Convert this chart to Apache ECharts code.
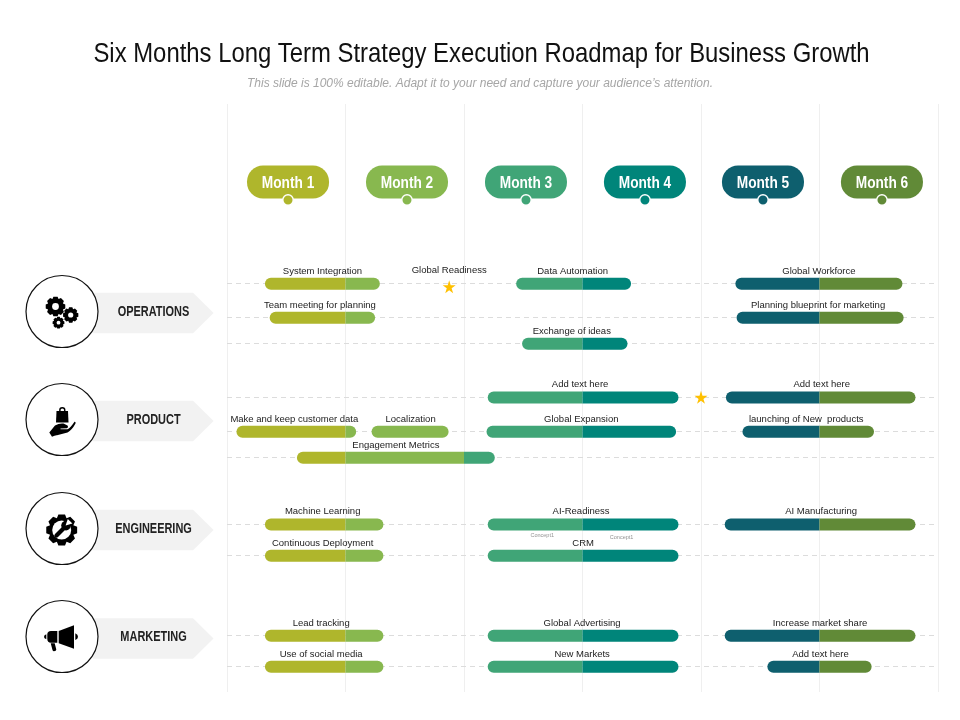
<!DOCTYPE html>
<html>
<head>
<meta charset="utf-8">
<title>Roadmap</title>
<script src="https://cdn.jsdelivr.net/npm/echarts@6/dist/echarts.min.js"></script>
<style>
  html, body { margin: 0; background: #fff; }
  #chart { width: 960px; height: 720px; }
</style>
</head>
<body>
<div id="chart"></div>
<script>
// 数据：x 轴单位是月（0~6），y 轴是纵向位置
const months = ['Month 1', 'Month 2', 'Month 3', 'Month 4', 'Month 5', 'Month 6'];
const monthAt = [0.515, 1.519, 2.523, 3.527, 4.523, 5.527];
const monthColors = ['#AFB62C', '#88B84F', '#40A577', '#00857A', '#0E5F6E', '#618A37'];
const categories = ['OPERATIONS', 'PRODUCT', 'ENGINEERING', 'MARKETING'];

const lanes = [17.93, 21.33, 23.93, 29.3, 32.73, 35.33, 42.0, 45.13, 53.13, 56.23];

const taskNames = [
  'System Integration', 'Data Automation', 'Global Workforce',
  'Team meeting for planning', 'Planning blueprint for marketing',
  'Exchange of ideas',
  'Add text here', 'Add text here',
  'Make and keep customer data', 'Localization', 'Global Expansion', 'launching of New  products',
  'Engagement Metrics',
  'Machine Learning', 'AI-Readiness', 'AI Manufacturing',
  'Continuous Deployment', 'CRM',
  'Lead tracking', 'Global Advertising', 'Increase market share',
  'Use of social media', 'New Markets', 'Add text here'
];
const taskStart = [
  0.32, 2.44, 4.29,
  0.36, 4.30,
  2.49,
  2.20, 4.21,
  0.08, 1.22, 2.19, 4.35,
  0.59,
  0.32, 2.20, 4.20,
  0.32, 2.20,
  0.32, 2.20, 4.20,
  0.32, 2.20, 4.56
];
const taskEnd = [
  1.29, 3.41, 5.70,
  1.25, 5.71,
  3.38,
  3.81, 5.81,
  1.09, 1.87, 3.79, 5.46,
  2.26,
  1.32, 3.81, 5.81,
  1.32, 3.81,
  1.32, 3.81, 5.81,
  1.32, 3.81, 5.44
];
const taskLane = [0, 0, 0, 1, 1, 2, 3, 3, 4, 4, 4, 4, 5, 6, 6, 6, 7, 7, 8, 8, 8, 9, 9, 9];

// 里程碑星标
const starNames = ['Global Readiness', ''];
const starMonth = [1.875, 4.0];
const starPos = [18.27, 29.33];

// 小字注释
const noteMonth = [2.66, 3.33];
const notePos = [43.1, 43.3];
const noteText = 'Concept1';

// 布局：左侧面板的纵向位置、文字的微调
const panelCircleY = [311.5, 419.5, 528.5, 636.5];
const panelArrowY = [313, 421, 530, 638.5];
const labelShift = [0, -1, 0, -2.5, -2, -3, -3, 1, -2, 0.5, 0, -2, 0, -1.5, -2, 1, -1.5, 0, -3, -1, 0, -3, -1, 1];

const SANS = '"Liberation Sans", Arial, sans-serif';
const LABEL_FONT = '9.5px ' + SANS;
const STAR = 'path://M50 0 L61 35 L98 35 L68 57 L79 91 L50 70 L21 91 L32 57 L2 35 L39 35 Z';

// 齿轮外形，返回多边形顶点
const gearPoints = (cx, cy, r, root, teeth) => {
  const pts = [];
  const step = Math.PI * 2 / teeth;
  for (let i = 0; i < teeth; i++) {
    const a = i * step - Math.PI / 2;
    [[-0.5, root], [-0.27, r], [0.27, r], [0.5, root]].forEach(p => {
      const t = a + p[0] * step;
      pts.push([cx + p[1] * Math.cos(t), cy + p[1] * Math.sin(t)]);
    });
  }
  return pts;
};

const gear = (cx, cy, r, hole) => [
  { type: 'polygon', shape: { points: gearPoints(cx, cy, r, r * 0.8, 8) }, style: { fill: '#000' } },
  { type: 'circle', shape: { cx, cy, r: hole }, style: { fill: '#fff' } }
];

const blackPath = d => ({ type: 'path', shape: { pathData: d }, style: { fill: '#000' } });

const icons = [
  () => [...gear(55.5, 306.5, 10, 3.4), ...gear(70.7, 315, 7.8, 2.6), ...gear(58.5, 322.7, 6, 1.9)],
  () => [
    blackPath('M56.5 411 L68 411 L68.5 422.5 L56 422.5 Z'),
    { type: 'ring', shape: { cx: 62.3, cy: 410.3, r: 3.2, r0: 1.8 }, style: { fill: '#000' } },
    blackPath('M49.3 432.5 L55 425.5 Q59 423 63.5 423.5 L67.5 425.5 Q69 427 67 428.3 L60.5 428.5 L60.5 429.3 L67.5 429.3 Q70 428.5 74.5 421.8 Q76 421.5 75.5 423.5 Q72 430 67.5 432.5 L57 435.2 Q55 435 52 436.8 Z')
  ],
  () => [
    { type: 'polygon', shape: { points: gearPoints(61.7, 530, 15.8, 12.6, 8) }, style: { fill: '#000' } },
    { type: 'circle', shape: { cx: 61.7, cy: 530, r: 9.5 }, style: { fill: '#fff' } },
    { type: 'line', shape: { x1: 56.5, y1: 535.5, x2: 65.5, y2: 526.5 }, style: { stroke: '#000', lineWidth: 4.2, lineCap: 'round' } },
    { type: 'circle', shape: { cx: 66, cy: 525.6, r: 4.8 }, style: { fill: '#000' } },
    blackPath('M66 521.5 L69.8 519.6 L71.8 522 L69.6 526 L66.8 525.6 Z'),
    { type: 'polygon', shape: { points: [[65.6, 525.4], [67.8, 519], [72.4, 523.4]] }, style: { fill: '#fff' } }
  ],
  () => [
    blackPath('M58.7 631 L74 625.3 L74 648.7 L58.7 643.3 Z'),
    blackPath('M57.3 631 L57.3 642.7 L51 642.7 Q47.3 642.7 47.3 639 L47.3 634.7 Q47.3 631 51 631 Z'),
    blackPath('M46.3 634.3 L46.3 639.3 Q44 638.6 44 636.8 Q44 635 46.3 634.3 Z'),
    blackPath('M75.3 633.3 Q78 634.5 78 636.7 Q78 638.9 75.3 640 Z'),
    blackPath('M50.7 643.3 L54.7 643.3 L56.3 649.5 Q56.3 651 54 651.2 Q52.8 651.2 52.5 650 Z')
  ]
];

// 左侧：圆形图标 + 箭头标签
const renderPanel = (params) => {
  const i = params.dataIndex;
  const ay = panelArrowY[i];
  const cy = panelCircleY[i];
  return {
    type: 'group',
    children: [
      {
        type: 'polygon',
        shape: { points: [[93, ay - 20.3], [193, ay - 20.3], [213.5, ay], [193, ay + 20.3], [93, ay + 20.3]] },
        style: { fill: '#F2F2F2' }
      },
      {
        type: 'circle',
        shape: { cx: 62, cy, r: 36 },
        style: { fill: '#fff', stroke: '#111', lineWidth: 1.2 }
      },
      {
        type: 'text',
        x: 153.5,
        y: cy + 0.5,
        scaleX: 0.73,
        style: {
          text: categories[i], x: 0, y: 0, align: 'center', verticalAlign: 'middle',
          font: 'bold 15px ' + SANS, fill: '#222'
        }
      },
      ...icons[i]()
    ]
  };
};

// 月份胶囊
const renderMonth = (params, api) => {
  const i = params.dataIndex;
  const p = api.coord([api.value(0), api.value(1)]);
  return {
    type: 'group',
    children: [
      {
        type: 'rect',
        shape: { x: p[0] - 41, y: p[1] - 16.5, width: 82, height: 33, r: 16 },
        style: { fill: monthColors[i] }
      },
      {
        type: 'circle',
        shape: { cx: p[0], cy: p[1] + 18, r: 5.2 },
        style: { fill: monthColors[i], stroke: '#fff', lineWidth: 1.4 }
      },
      {
        type: 'text',
        x: p[0],
        y: p[1] + 1.5,
        scaleX: 0.855,
        style: {
          text: months[i], x: 0, y: 0, align: 'center', verticalAlign: 'middle',
          font: 'bold 16px ' + SANS, fill: '#fff',
          shadowColor: 'rgba(0,0,0,0.6)', shadowBlur: 2, shadowOffsetX: 1, shadowOffsetY: 1
        }
      }
    ]
  };
};

// 任务条，跨月处按月份分段上色
const renderTask = (params, api) => {
  const i = params.dataIndex;
  const start = api.value(0);
  const end = api.value(1);
  const lane = api.value(2);
  const y = api.coord([start, lane])[1];
  const h = 12;
  const rad = 6;
  const children = [];
  for (let m = Math.floor(start); m < end; m++) {
    const from = Math.max(start, m);
    const to = Math.min(end, m + 1);
    const x0 = api.coord([from, lane])[0];
    const x1 = api.coord([to, lane])[0];
    const isFirst = from === start;
    const isLast = to === end;
    children.push({
      type: 'rect',
      shape: {
        x: x0, y: y - h / 2 + 0.4, width: x1 - x0, height: h,
        r: [isFirst ? rad : 0, isLast ? rad : 0, isLast ? rad : 0, isFirst ? rad : 0]
      },
      style: { fill: monthColors[m] }
    });
  }
  const mid = (api.coord([start, lane])[0] + api.coord([end, lane])[0]) / 2;
  children.push({
    type: 'text',
    style: {
      text: taskNames[i], x: mid + labelShift[i], y: y - 12.2,
      align: 'center', verticalAlign: 'middle', font: LABEL_FONT, fill: '#222'
    }
  });
  return { type: 'group', children };
};

const chart = echarts.init(document.getElementById('chart'));

chart.setOption({
  animation: false,
  backgroundColor: '#fff',
  title: {
    text: 'This slide is 100% editable. Adapt it to your need and capture your audience’s attention.',
    left: 'center', top: 71.5,
    textStyle: { fontFamily: SANS, fontStyle: 'italic', fontWeight: 'normal', fontSize: 12, color: '#a6a6a6', lineHeight: 14 }
  },
  // 标题字形偏窄，用 graphic 文本横向压缩
  graphic: {
    type: 'text',
    x: 481.5,
    y: 54.5,
    scaleX: 0.868,
    style: {
      text: 'Six Months Long Term Strategy Execution Roadmap for Business Growth',
      x: 0, y: 0, align: 'center', verticalAlign: 'middle',
      font: '27.5px ' + SANS, fill: '#111'
    }
  },
  grid: { left: 227, right: 22, top: 104, bottom: 28 },
  xAxis: {
    type: 'value', min: 0, max: 6, interval: 1,
    axisLine: { show: false }, axisTick: { show: false }, axisLabel: { show: false },
    splitLine: { show: true, lineStyle: { color: '#efefef', width: 1 } }
  },
  yAxis: {
    type: 'value', min: 0, max: 58.8, inverse: true, show: false, splitLine: { show: false }
  },
  series: [
    {
      type: 'scatter',
      name: 'milestones',
      z: 4,
      symbol: STAR,
      symbolSize: 13,
      silent: true,
      itemStyle: { color: '#FFC000', opacity: 1 },
      data: starNames.map((name, i) => ({ name, value: [starMonth[i], starPos[i]] })),
      label: {
        show: true, position: 'top', distance: 5, formatter: '{b}',
        fontSize: 9.5, fontFamily: SANS, color: '#222'
      },
      markLine: {
        silent: true, symbol: 'none', label: { show: false }, z: 1,
        lineStyle: { color: '#dcdcdc', type: [5, 4], width: 1 },
        data: lanes.map(v => ({ yAxis: v }))
      }
    },
    {
      type: 'scatter',
      name: 'notes',
      z: 4,
      symbolSize: 0,
      silent: true,
      data: noteMonth.map((m, i) => [m, notePos[i]]),
      label: {
        show: true, position: 'inside', formatter: noteText,
        fontSize: 5.5, fontFamily: SANS, color: '#777'
      }
    },
    {
      type: 'custom',
      name: 'tasks',
      z: 3,
      silent: true,
      renderItem: renderTask,
      encode: { x: [0, 1], y: 2 },
      data: taskNames.map((n, i) => [taskStart[i], taskEnd[i], lanes[taskLane[i]]])
    },
    {
      type: 'custom',
      name: 'months',
      z: 3,
      silent: true,
      renderItem: renderMonth,
      encode: { x: 0, y: 1 },
      data: monthAt.map(m => [m, 7.8])
    },
    {
      type: 'custom',
      name: 'categories',
      coordinateSystem: 'none',
      z: 3,
      silent: true,
      renderItem: renderPanel,
      data: categories.map((c, i) => [i])
    }
  ]
});
</script>
</body>
</html>
